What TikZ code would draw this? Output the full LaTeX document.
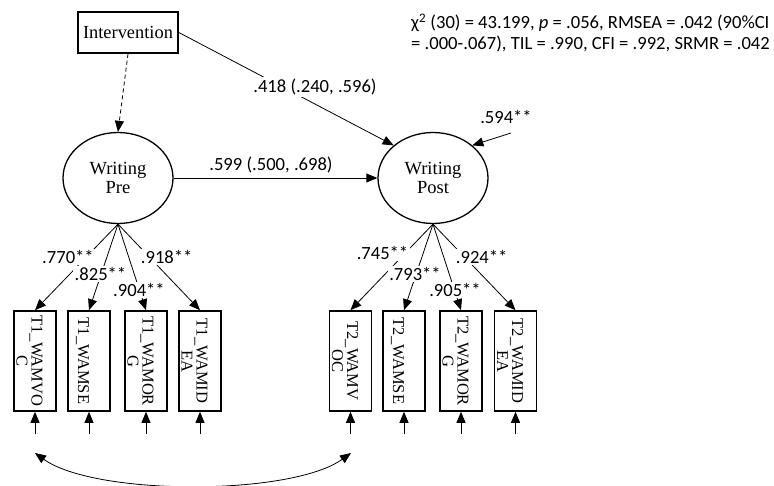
\documentclass[tikz,border=0pt]{standalone}
\usepackage{fontspec}
\setmainfont{Liberation Serif}
\newfontfamily\estfont{Carlito}
\usetikzlibrary{arrows.meta,shapes.geometric}
\tikzset{
  latent/.style={draw,ellipse,line width=1.3pt,minimum width=110pt,minimum height=91pt,inner sep=0pt,align=center,font=\fontsize{18.5}{19}\selectfont},
  obsbox/.style={draw,rectangle,line width=1.6pt,rotate=-90,minimum width=100pt,minimum height=42pt,inner sep=0pt,text depth=0pt,align=center,font=\fontsize{16.5}{15}\selectfont},
  sempath/.style={-{Triangle[length=11pt,width=9pt]},line width=0.8pt},
  estlbl/.style={fill=white,inner sep=1.5pt,font=\estfont\fontsize{18.6}{22}\selectfont},
}

\begin{document}
\begin{tikzpicture}[x=1pt,y=-1pt]
\useasboundingbox (0,0) rectangle (774,486);
% ---- latente Variablen ----
\node[draw,line width=1.6pt,minimum width=100pt,minimum height=41pt,inner sep=0pt,font=\fontsize{18.4}{20}\selectfont] (int) at (128,32.5) {Intervention};
\node[latent] (pre) at (118,178) {Writing\\Pre};
\node[latent] (post) at (433,178) {Writing\\Post};
% indikatoren (gedreht: west = oben, east = unten) mit fehlern
\foreach \n/\x/\h/\t in {t1a/35/37/{T1\_WAMVO\\C},t1b/89/22/{T1\_WAMSE},t1c/146/37/{T1\_WAMOR\\G},t1d/200/37/{T1\_WAMID\\EA},
                         t2a/350.5/37/{T2\_WAMV\\OC},t2b/404/22/{T2\_WAMSE},t2c/461/37/{T2\_WAMOR\\G},t2d/515.5/37/{T2\_WAMID\\EA}}{
  \node[obsbox,text height=\h pt] (\n) at (\x,361) {\t};
  \coordinate (\n-e) at (\x,434);
  \draw[sempath] (\n-e) -- (\n.east);}
% strukturpfade
\draw[sempath,dash pattern=on 4pt off 3pt] (int.south) -- (pre.north);
\draw[sempath] (int.east) -- (post.north west);
\draw[sempath] (pre.east) -- (post.west);
\coordinate (res) at (511,133);
\draw[sempath] (res) -- (post.north east);
% ladungen
\foreach \n in {t1a,t1b,t1c,t1d} \draw[sempath] (pre.south) -- (\n.west);
\foreach \n in {t2a,t2b,t2c,t2d} \draw[sempath] (post.south) -- (\n.west);
% fehlerkovarianz
\coordinate (cv1) at (35,453);
\coordinate (cv2) at (351,453);
\draw[{Triangle[length=11pt,width=9pt]}-{Triangle[length=11pt,width=9pt]},line width=0.8pt] (cv1) .. controls (95,496) and (291,496) .. (cv2);
% schaetzer
\node[estlbl] (b418) at (315,87) {.418 (.240, .596)};
\node[estlbl] (b599) at (271,165) {.599 (.500, .698)};
\node[estlbl] (r594) at (506,117) {.594**};
\node[estlbl] (l770) at (68,257) {.770**};
\node[estlbl] (l825) at (100.5,274) {.825**};
\node[estlbl] (l904) at (139,290) {.904**};
\node[estlbl] (l918) at (166.7,256.7) {.918**};
\node[estlbl] (l745) at (382.5,253) {.745**};
\node[estlbl] (l793) at (415,274) {.793**};
\node[estlbl] (l905) at (455,290) {.905**};
\node[estlbl] (l924) at (481.7,256.7) {.924**};
% modellfit (base = letzte zeile)
\node[anchor=base west,align=left,inner sep=0pt,font=\estfont\fontsize{18.6}{21.7}\selectfont] (fit) at (411,50)
  {χ\textsuperscript{2} (30) = 43.199, \textit{p} = .056, RMSEA = .042 (90\%CI\\= .000-.067), TIL = .990, CFI = .992, SRMR = .042};
\end{tikzpicture}
\end{document}
